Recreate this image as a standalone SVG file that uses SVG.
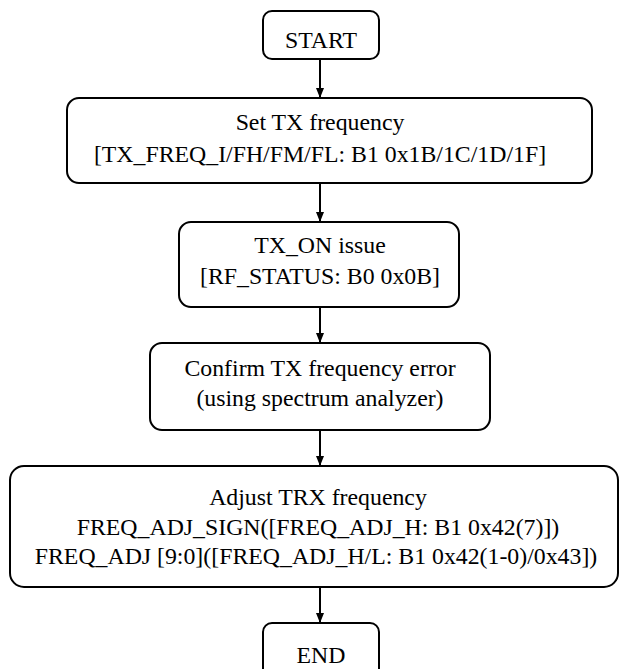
<svg xmlns="http://www.w3.org/2000/svg" width="619" height="669" viewBox="0 0 619 669">
<style>
.box{fill:#fff;stroke:#000;stroke-width:2}
text{font-family:'Liberation Serif','Times New Roman',Times,serif;font-size:23.8px;fill:#000;text-anchor:middle}
.c{stroke:#000;stroke-width:2;fill:none;marker-end:url(#ah)}
</style>
<defs>
<marker id="ah" viewBox="0 0 10 10" refX="10" refY="5" markerWidth="10" markerHeight="11" markerUnits="userSpaceOnUse" orient="auto">
<path d="M0,1 L10,5 L0,9 Z" fill="#000"/>
</marker>
</defs>
<rect width="619" height="669" fill="#fff"/>
<g id="connectors">
<line class="c" x1="320" y1="59" x2="320" y2="98"/>
<line class="c" x1="320" y1="183" x2="320" y2="222"/>
<line class="c" x1="320" y1="307" x2="320" y2="343"/>
<line class="c" x1="320" y1="430" x2="320" y2="466"/>
<line class="c" x1="320" y1="587" x2="320" y2="623"/>
</g>
<g id="start">
<rect class="box" x="263" y="11" width="116" height="48" rx="9"/>
<text x="321" y="48">START</text>
</g>
<g id="set-tx">
<rect class="box" x="67" y="98" width="525" height="85" rx="12"/>
<text x="320" y="130">Set TX frequency</text>
<text x="320" y="162">[TX_FREQ_I/FH/FM/FL: B1 0x1B/1C/1D/1F]</text>
</g>
<g id="tx-on">
<rect class="box" x="179" y="222" width="280" height="85" rx="12"/>
<text x="320" y="253">TX_ON issue</text>
<text x="320" y="284">[RF_STATUS: B0 0x0B]</text>
</g>
<g id="confirm">
<rect class="box" x="150" y="343" width="340" height="87" rx="12"/>
<text x="320" y="376">Confirm TX frequency error</text>
<text x="320" y="406">(using spectrum analyzer)</text>
</g>
<g id="adjust">
<rect class="box" x="10" y="466" width="608" height="121" rx="14"/>
<text x="318" y="505">Adjust TRX frequency</text>
<text x="318" y="535">FREQ_ADJ_SIGN([FREQ_ADJ_H: B1 0x42(7)])</text>
<text x="316" y="564">FREQ_ADJ [9:0]([FREQ_ADJ_H/L: B1 0x42(1-0)/0x43])</text>
</g>
<g id="end">
<rect class="box" x="263" y="623" width="116" height="60" rx="9"/>
<text x="321" y="663">END</text>
</g>
</svg>
